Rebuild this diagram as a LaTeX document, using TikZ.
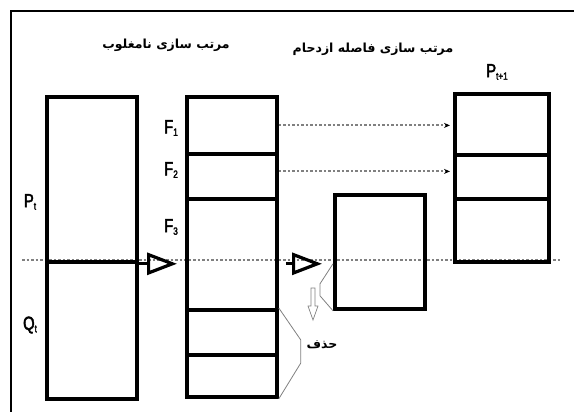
\documentclass[tikz,border=0pt]{standalone}
\usepackage{fontspec}
\setmainfont{Liberation Sans}
\newfontfamily\labelfont[FakeStretch=0.78,FakeBold=2.5]{Liberation Sans}
\newfontfamily\arabicfont[Script=Arabic]{DejaVu Sans}
\TeXXeTstate=1
\usetikzlibrary{arrows.meta}

\newcommand{\lbl}[2]{{\labelfont\fontsize{19}{19}\selectfont #1\raisebox{-0.25ex}{\fontsize{10.5}{10.5}\selectfont #2}}}
\newcommand{\fa}[1]{{\arabicfont\bfseries\fontsize{12.5}{12.5}\selectfont\beginR #1\endR}}

\tikzset{
  box/.style={draw, line width=3.8pt, inner sep=0pt, anchor=north west},
  dotline/.style={gray, line width=2pt, dash pattern=on 2.5pt off 2pt},
  bigarrow/.style={line width=3.2pt, -{Triangle[open, length=30pt, width=22pt, line width=3.2pt]}},
  bracket/.style={gray, line width=0.8pt},
}

\begin{document}
\begin{tikzpicture}[x=1pt,y=-1pt]
\useasboundingbox (0,0) rectangle (574,412);
% frame
\draw[line width=2pt] (11,412) -- (11,11) -- (574,11);
% middle dotted line
\draw[dotline] (22,260) -- (560,260);
% population P_t and Q_t
\node[box, minimum width=90pt, minimum height=165pt] (p) at (45,95) {};
\node[box, minimum width=90pt, minimum height=137pt] (q) at (45,260) {};
% fronts F_1, F_2, F_3 and the rest
\node[box, minimum width=90pt, minimum height=57pt] (f1) at (185,95) {};
\node[box, minimum width=90pt, minimum height=45pt] (f2) at (185,152) {};
\node[box, minimum width=90pt, minimum height=111pt] (f3) at (185,197) {};
\node[box, minimum width=90pt, minimum height=45pt] (f4) at (185,308) {};
\node[box, minimum width=90pt, minimum height=42pt] (f5) at (185,353) {};
% crowding distance sorted part of F_3
\node[box, minimum width=90pt, minimum height=114pt] (cd) at (333,193) {};
% new population P_{t+1}
\node[box, minimum width=94pt, minimum height=61pt] (n1) at (453,92) {};
\node[box, minimum width=94pt, minimum height=44pt] (n2) at (453,153) {};
\node[box, minimum width=94pt, minimum height=63pt] (n3) at (453,197) {};
% labels
\node (lp) at (30,202) {\lbl{P}{t}};
\node (lq) at (30,325) {\lbl{Q}{t}};
\node (lf1) at (171,128) {\lbl{F}{1}};
\node (lf2) at (171,170) {\lbl{F}{2}};
\node (lf3) at (171,227) {\lbl{F}{3}};
\node (lnew) at (497,72) {\lbl{P}{t+1}};
% titles
\node (sort1) at (166,45) {\fa{مرتب سازی نامغلوب}};
\node (sort2) at (373,49) {\fa{مرتب سازی فاصله ازدحام}};
\node (del) at (322,345) {\fa{حذف}};
% big arrows
\draw[bigarrow, shorten >=8pt] (p.south east) -- (f3.west |- p.south east);
\draw[bigarrow, shorten <=7pt, shorten >=11pt] (f3.east |- p.south east) -- (cd.west |- p.south east);
% dotted arrows
\coordinate (f2out) at ([yshift=5pt]f2.east);
\draw[dotline, -{Stealth[black, length=6pt, width=5pt]}, shorten >=3pt] (f1.east) -- (n1.west |- f1.east);
\draw[dotline, -{Stealth[black, length=6pt, width=5pt]}, shorten >=3pt] (f2out) -- (n2.west |- f2out);
% brackets
\draw[bracket] (f4.north east) -- ++(22,32) -- ++(0,23) -- (f5.south east);
\draw[bracket] (cd.west |- p.south east) -- ++(-13,20) -- ++(0,12) -- (cd.south west);
% deletion arrow
\coordinate (down) at (313,288);
\draw[gray, line width=0.7pt] (down) ++(-2,0) -- ++(0,18) -- ++(-3,0) -- (313,320) -- (318,306) -- ++(-3,0) -- ++(0,-18) -- cycle;
\end{tikzpicture}
\end{document}
